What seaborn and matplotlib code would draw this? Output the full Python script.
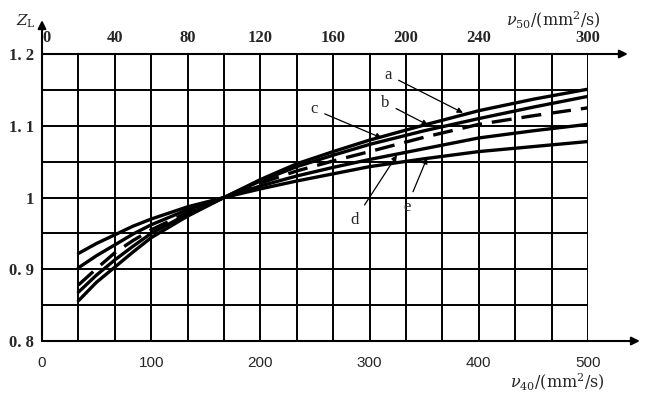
import numpy as np
import pandas as pd
import matplotlib
matplotlib.use("Agg")
import matplotlib.pyplot as plt
import seaborn as sns

# ---- data ----
nu40 = [33.3, 50, 66.7, 83.3, 100, 133.3, 166.7, 200, 233.3, 266.7, 300, 350, 400, 450, 500]
curve_a = [0.856, 0.882, 0.903, 0.924, 0.944, 0.974, 1.0, 1.025, 1.047, 1.064, 1.080, 1.101, 1.121, 1.137, 1.151]
curve_b = [0.868, 0.892, 0.913, 0.932, 0.950, 0.977, 1.0, 1.023, 1.043, 1.059, 1.074, 1.093, 1.110, 1.126, 1.141]
curve_c = [0.878, 0.901, 0.923, 0.940, 0.955, 0.979, 1.0, 1.020, 1.037, 1.051, 1.064, 1.084, 1.102, 1.114, 1.125]
curve_d = [0.902, 0.919, 0.934, 0.949, 0.962, 0.983, 1.0, 1.016, 1.030, 1.042, 1.053, 1.068, 1.083, 1.093, 1.102]
curve_e = [0.922, 0.936, 0.948, 0.960, 0.970, 0.987, 1.0, 1.012, 1.023, 1.033, 1.043, 1.054, 1.064, 1.071, 1.078]
curve_names = ["a", "b", "c", "d", "e"]

bottom_ticks = [0, 100, 200, 300, 400, 500]
top_ticks = [0, 40, 80, 120, 160, 200, 240, 300]
y_ticks = [0.8, 0.9, 1.0, 1.1, 1.2]
y_labels = ["0. 8", "0. 9", "1", "1. 1", "1. 2"]

sns.set_style("white")
plt.rcParams["font.family"] = ["DejaVu Sans"]
plt.rcParams["mathtext.fontset"] = "dejavuserif"

fig = plt.figure(figsize=(6.5, 3.96), dpi=100)
ax = fig.add_axes([42/650, 1 - 341/396, 546/650, 287/396])

ax.set_xlim(0, 500)
ax.set_ylim(0.8, 1.2)

# grid (drawn explicitly so every line appears)
for gx in np.linspace(0, 500, 16)[1:]:
    ax.axvline(gx, color="black", lw=1.4, zorder=1)
for gy in np.linspace(0.8, 1.2, 9)[1:-1]:
    ax.axhline(gy, color="black", lw=1.4, zorder=1)

curves = [curve_a, curve_b, curve_c, curve_d, curve_e]
for name, vals in zip(curve_names, curves):
    sns.lineplot(x=nu40, y=vals, ax=ax, color="black", lw=2.4, zorder=3)
    if name == "c":
        ax.lines[-1].set_dashes([6, 3])

for s in ax.spines.values():
    s.set_visible(False)

serif_bold = dict(family="Liberation Serif", weight="bold", size=12)
ax.set_xticks(bottom_ticks)
ax.set_xticklabels([str(t) for t in bottom_ticks], fontsize=11, family="Liberation Sans")
ax.set_yticks(y_ticks)
ax.set_yticklabels(y_labels, **serif_bold)
ax.tick_params(axis="both", which="both", length=0)
ax.tick_params(axis="x", pad=11)
ax.tick_params(axis="y", pad=6)
ax.grid(False)

# top axis (nu50)
sec = ax.secondary_xaxis("top", functions=(lambda x: x * 0.6, lambda x: x / 0.6))
sec.set_xticks(top_ticks)
sec.set_xticklabels([str(t) for t in top_ticks], **serif_bold)
sec.tick_params(length=0, pad=6)
sec.get_xticklabels()[0].set_horizontalalignment("left")
for s in sec.spines.values():
    s.set_visible(False)

# axis lines with arrows
arrow_kw = dict(arrowstyle="-|>", color="black", lw=1.5, mutation_scale=12, shrinkA=0, shrinkB=0)
ax.annotate("", xy=(1.095, 0), xytext=(0, 0), xycoords="axes fraction",
            textcoords="axes fraction", arrowprops=arrow_kw, annotation_clip=False)
ax.annotate("", xy=(1.073, 1), xytext=(0, 1), xycoords="axes fraction",
            textcoords="axes fraction", arrowprops=arrow_kw, annotation_clip=False)
ax.annotate("", xy=(0, 1.118), xytext=(0, 0), xycoords="axes fraction",
            textcoords="axes fraction", arrowprops=arrow_kw, annotation_clip=False)

# axis titles
ax.text(-0.03, 1.115, r"$Z_{\mathrm{L}}$", transform=ax.transAxes, fontsize=11,
        ha="center", va="center")
ax.text(0.936, 1.118, r"$\nu_{50}$/(mm$^2$/s)", transform=ax.transAxes, fontsize=11.5,
        ha="center", va="center", family="DejaVu Serif")
ax.text(0.943, -0.143, r"$\nu_{40}$/(mm$^2$/s)", transform=ax.transAxes, fontsize=11.5,
        ha="center", va="center", family="DejaVu Serif")

# curve labels
lab_kw = dict(arrowstyle="-|>", color="black", lw=0.9, mutation_scale=8, shrinkA=3, shrinkB=0)
labels = {"a": ((316.8, 1.171), (385.5, 1.118)),
          "b": ((314.0, 1.132), (353.5, 1.101)),
          "c": ((249.0, 1.123), (311.0, 1.083)),
          "d": ((286.6, 0.969), (325.0, 1.059)),
          "e": ((334.0, 0.987), (352.6, 1.055))}
for name, (txt, tip) in labels.items():
    ax.annotate(name, xy=tip, xytext=txt, ha="center", va="center",
                fontsize=12, family="Liberation Serif", arrowprops=lab_kw, zorder=4)

fig.savefig("out.png", dpi=100, facecolor="white")
